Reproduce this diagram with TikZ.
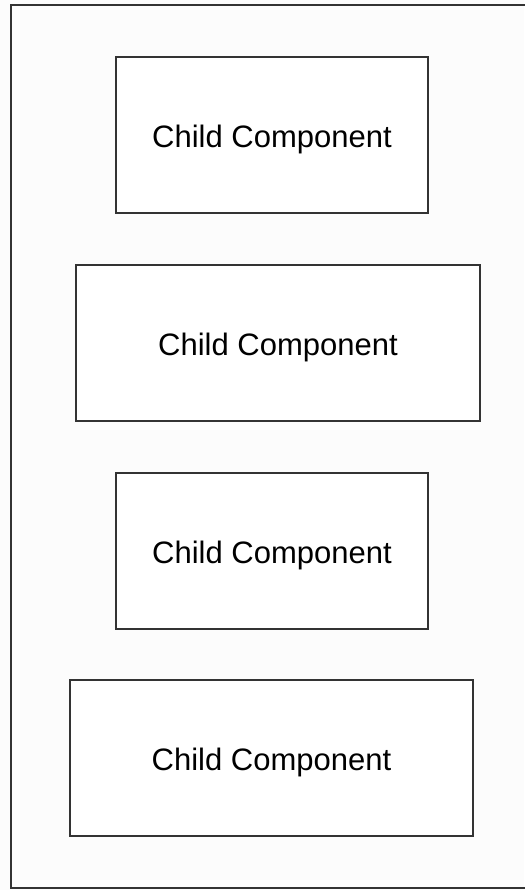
\documentclass[tikz,border=0pt]{standalone}
\usepackage{fontspec}
\setmainfont{Liberation Sans}
\begin{document}
\begin{tikzpicture}[x=1pt,y=-1pt,
  box/.style={draw=black!80,line width=2pt,fill=white,inner sep=0pt,
    text height=24.2pt,text depth=0pt,font=\fontsize{31}{37}\selectfont},
  outerbox/.style={draw=black!80,line width=2pt,inner sep=0pt}]
\useasboundingbox[fill=black!1] (0,0) rectangle (524,890);
\node[outerbox,minimum width=530pt,minimum height=883pt] (parent) at (276,446.5) {};
\node[box,minimum width=312pt,minimum height=156pt] (c1) at (272,135) {Child Component};
\node[box,minimum width=404pt,minimum height=156pt] (c2) at (278,343) {Child Component};
\node[box,minimum width=312pt,minimum height=156pt] (c3) at (272,551) {Child Component};
\node[box,minimum width=403pt,minimum height=156pt] (c4) at (271.5,758) {Child Component};
\end{tikzpicture}
\end{document}
